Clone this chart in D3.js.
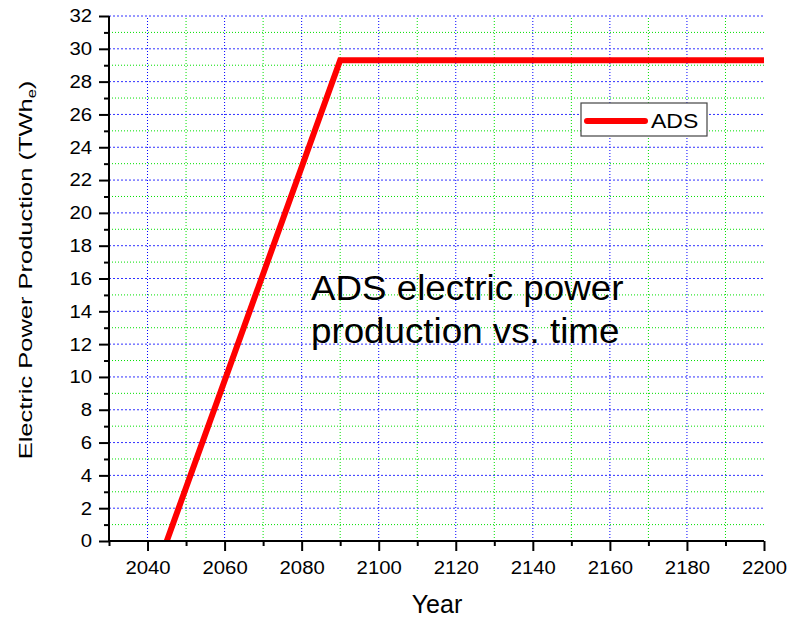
<!DOCTYPE html>
<html><head><meta charset="utf-8">
<script src="https://cdn.jsdelivr.net/npm/d3@7"></script>
<style>body{margin:0;background:#fff;}svg{display:block;font-family:"Liberation Sans",Arial,sans-serif;}</style>
</head><body>
<svg id="c" width="790" height="620"></svg>
<script>
const years = [2045, 2090, 2200];
const adsValues = [0, 29.3, 29.3];
const xMajorTicks = [2040, 2060, 2080, 2100, 2120, 2140, 2160, 2180, 2200];
const xMinorTicks = [2030, 2050, 2070, 2090, 2110, 2130, 2150, 2170, 2190];
const yMajorTicks = [0, 2, 4, 6, 8, 10, 12, 14, 16, 18, 20, 22, 24, 26, 28, 30, 32];
const yMinorTicks = [1, 3, 5, 7, 9, 11, 13, 15, 17, 19, 21, 23, 25, 27, 29, 31];
const seriesName = "ADS";

const svg = d3.select("#c");
const L = 109, R = 764, T = 16, B = 541;
const x = d3.scaleLinear().domain([2030, 2200]).range([L, R]);
const y = d3.scaleLinear().domain([0, 32]).range([B, T]);

const grid = svg.append("g");
grid.selectAll(".vmin").data(xMinorTicks.filter(d => d > 2030)).join("line")
  .attr("x1", d => x(d)).attr("x2", d => x(d)).attr("y1", B).attr("y2", T)
  .attr("stroke", "#00e000").attr("stroke-width", 1).attr("stroke-dasharray", "1,2");
grid.selectAll(".vmaj").data(xMajorTicks.filter(d => d < 2200)).join("line")
  .attr("x1", d => x(d)).attr("x2", d => x(d)).attr("y1", B).attr("y2", T)
  .attr("stroke", "#0000ff").attr("stroke-width", 1).attr("stroke-dasharray", "1,2");
grid.selectAll(".hmin").data(yMinorTicks).join("line")
  .attr("x1", L).attr("x2", R).attr("y1", d => y(d)).attr("y2", d => y(d))
  .attr("stroke", "#00e000").attr("stroke-width", 1).attr("stroke-dasharray", "1,2");
grid.selectAll(".hmaj").data(yMajorTicks.filter(d => d > 0)).join("line")
  .attr("x1", L).attr("x2", R).attr("y1", d => y(d)).attr("y2", d => y(d))
  .attr("stroke", "#3030ff").attr("stroke-width", 1).attr("stroke-dasharray", "2,2");

const line = d3.line().x((d, i) => x(years[i])).y(d => y(d));
svg.append("path").datum(adsValues).attr("d", line)
  .attr("fill", "none").attr("stroke", "#ff0000").attr("stroke-width", 6)
  .attr("stroke-linejoin", "miter");

const xAxis = d3.axisBottom(x).tickValues(xMajorTicks).tickSize(10).tickPadding(10).tickFormat(d3.format("d"));
const gx = svg.append("g").attr("transform", `translate(0,${B})`).call(xAxis);
const gxm = svg.append("g").attr("transform", `translate(0,${B})`)
  .call(d3.axisBottom(x).tickValues(xMinorTicks).tickSize(5).tickFormat(""));
gxm.select(".domain").remove();

const yAxis = d3.axisLeft(y).tickValues(yMajorTicks).tickSize(10).tickPadding(7);
const gy = svg.append("g").attr("transform", `translate(${L},0)`).call(yAxis);
const gym = svg.append("g").attr("transform", `translate(${L},0)`)
  .call(d3.axisLeft(y).tickValues(yMinorTicks).tickSize(5).tickFormat(""));
gym.select(".domain").remove();

[gx, gxm, gy, gym].forEach(g => {
  g.selectAll("line").attr("stroke", "#000").attr("stroke-width", 2);
  g.selectAll(".domain").attr("stroke", "#000").attr("stroke-width", 2);
  g.selectAll("text").attr("fill", "#000").attr("font-family", '"Liberation Sans",Arial,sans-serif');
});
gx.select(".domain").attr("d", `M${L},0H${R}`);
gy.select(".domain").attr("d", `M0,${B}V${T}`);
const sxX = 1.07;
gx.selectAll("text").attr("font-size", 19).attr("transform", `scale(${sxX},1)`);
const sxY = 1.1;
gy.selectAll("text").attr("font-size", 18.5).attr("x", -17 / sxY).attr("transform", `scale(${sxY},1)`);

svg.append("text").attr("x", 437).attr("y", 613).attr("text-anchor", "middle")
  .attr("font-size", 25).text("Year");
const yt = svg.append("text").attr("transform", `translate(31.5,270) rotate(-90) scale(1.37,1)`)
  .attr("text-anchor", "middle").attr("font-size", 18.6);
yt.append("tspan").text("Electric Power Production (TWh");
yt.append("tspan").attr("font-size", 12).attr("dy", 4).text("e");
yt.append("tspan").attr("dy", -4).text(")");

svg.append("rect").attr("x", 581).attr("y", 103).attr("width", 126).attr("height", 33)
  .attr("fill", "#fff").attr("stroke", "#444").attr("stroke-width", 1.2);
svg.append("line").attr("x1", 587).attr("x2", 645).attr("y1", 121).attr("y2", 121)
  .attr("stroke", "#ff0000").attr("stroke-width", 6).attr("stroke-linecap", "round");
svg.append("text").attr("transform", "translate(651,128) scale(1.15,1)").attr("font-size", 20).text(seriesName);

svg.append("text").attr("transform", "translate(311,300) scale(1.05,1)").attr("font-size", 35).text("ADS electric power");
svg.append("text").attr("transform", "translate(311,343) scale(1.05,1)").attr("font-size", 35).text("production vs. time");
</script>
</body></html>
